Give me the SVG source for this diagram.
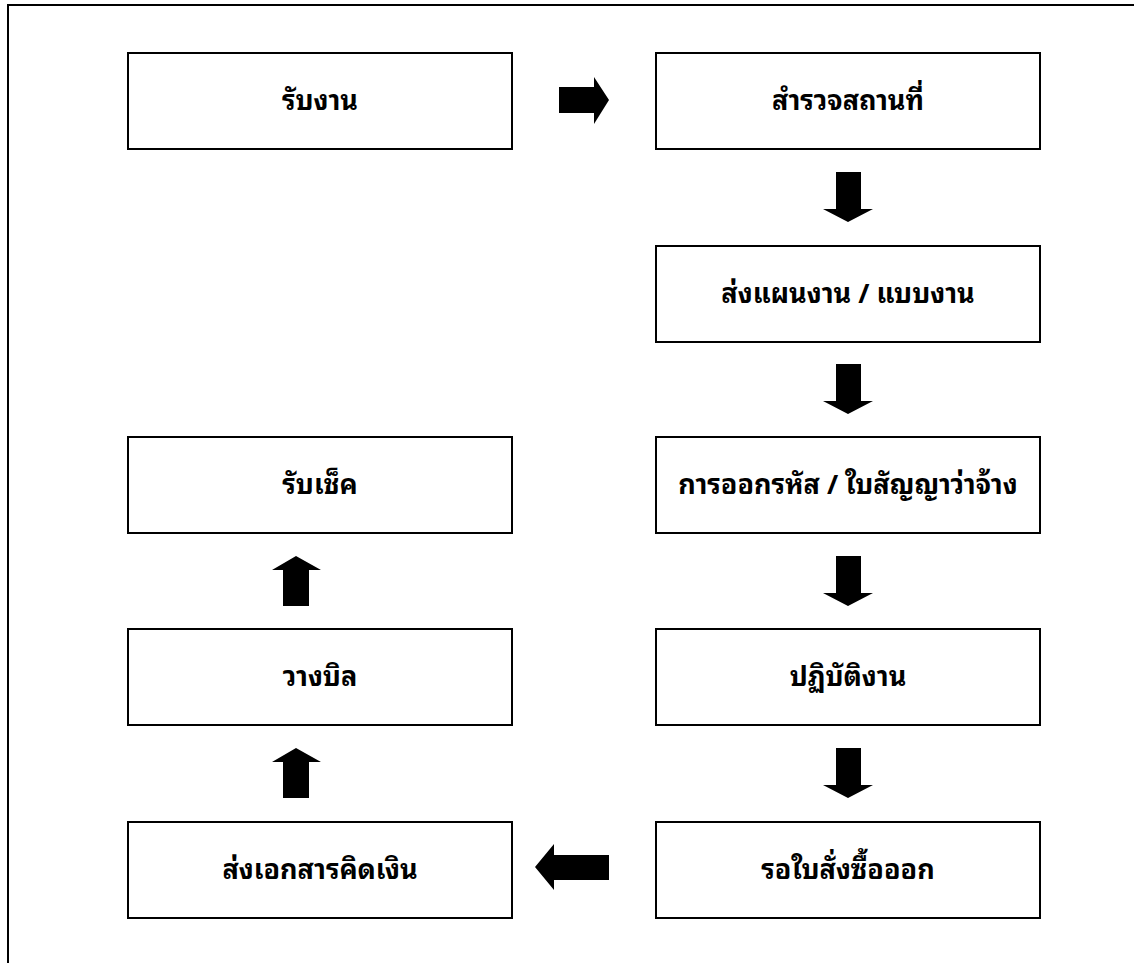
<svg xmlns="http://www.w3.org/2000/svg" width="1134" height="963" viewBox="0 0 1134 963">
<style>
.box{fill:#fff;stroke:#000;stroke-width:2}
.lbl{font-family:"Noto Sans Thai Looped","Noto Serif Thai","Noto Sans Thai","Noto Sans","DejaVu Sans",sans-serif;font-weight:bold;font-size:27px;fill:#000;text-anchor:middle}
.arr{fill:#000}
.frame{stroke:#000;stroke-width:2;fill:none}
</style>
<rect width="1134" height="963" fill="#fff"/>
<path class="frame" d="M8,963 V5 H1134"/>
<g id="n1"><rect class="box" x="128" y="53" width="384" height="96"/><text class="lbl" x="320" y="110">รับงาน</text></g>
<g id="n2"><rect class="box" x="656" y="53" width="384" height="96"/><text class="lbl" x="848" y="110">สำรวจสถานที่</text></g>
<g id="n3"><rect class="box" x="656" y="246" width="384" height="96"/><text class="lbl" x="848" y="303">ส่งแผนงาน / แบบงาน</text></g>
<g id="n4"><rect class="box" x="656" y="437" width="384" height="96"/><text class="lbl" x="848" y="494">การออกรหัส / ใบสัญญาว่าจ้าง</text></g>
<g id="n5"><rect class="box" x="656" y="629" width="384" height="96"/><text class="lbl" x="848" y="686">ปฏิบัติงาน</text></g>
<g id="n6"><rect class="box" x="656" y="822" width="384" height="96"/><text class="lbl" x="848" y="879">รอใบสั่งซื้อออก</text></g>
<g id="n7"><rect class="box" x="128" y="822" width="384" height="96"/><text class="lbl" x="320" y="879">ส่งเอกสารคิดเงิน</text></g>
<g id="n8"><rect class="box" x="128" y="629" width="384" height="96"/><text class="lbl" x="320" y="686">วางบิล</text></g>
<g id="n9"><rect class="box" x="128" y="437" width="384" height="96"/><text class="lbl" x="320" y="494">รับเช็ค</text></g>
<g id="connectors">
<polygon class="arr" points="559,87 594,87 594,77 609,100 594,124 594,113 559,113"/>
<polygon class="arr" points="836,172 861,172 861,209 873,209 848,222 823,209 836,209"/>
<polygon class="arr" points="836,364 861,364 861,401 873,401 848,414 823,401 836,401"/>
<polygon class="arr" points="836,556 861,556 861,593 873,593 848,606 823,593 836,593"/>
<polygon class="arr" points="836,748 861,748 861,785 873,785 848,798 823,785 836,785"/>
<polygon class="arr" points="609,855 554,855 554,844 535,867 554,890 554,880 609,880"/>
<polygon class="arr" points="283,798 309,798 309,762 321,762 296,748 272,762 283,762"/>
<polygon class="arr" points="283,606 309,606 309,570 321,570 296,556 272,570 283,570"/>
</g>
</svg>
